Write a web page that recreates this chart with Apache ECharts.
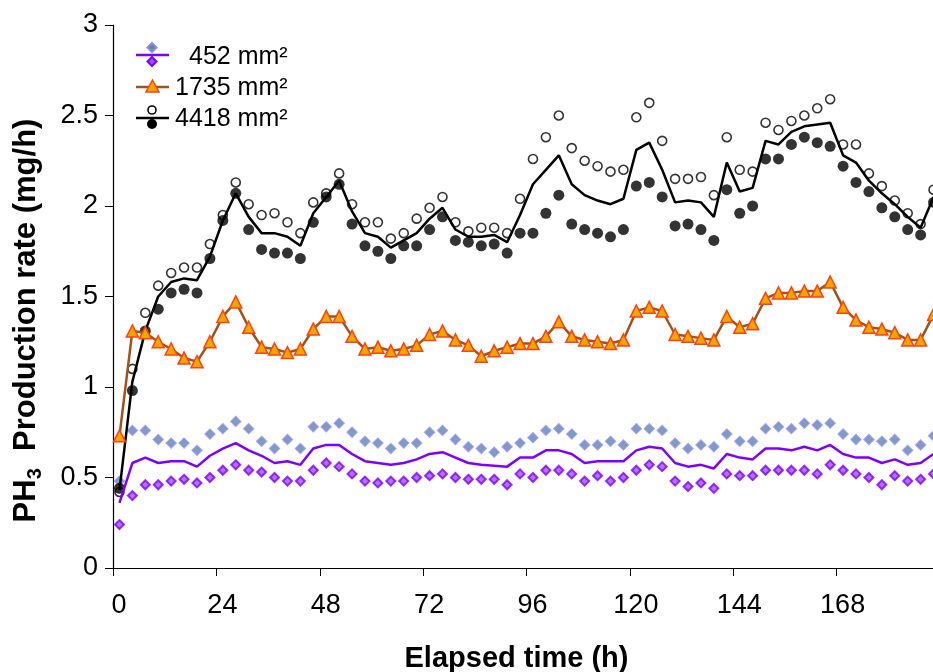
<!DOCTYPE html>
<html>
<head>
<meta charset="utf-8">
<script src="https://cdn.jsdelivr.net/npm/echarts@6/dist/echarts.min.js"></script>
<style>
  html, body { margin: 0; padding: 0; background: #fff; }
  #chart { width: 933px; height: 672px; }
</style>
</head>
<body>
<div id="chart"></div>
<script>
// sampling times (h), one point every 3 h
var hours = [1.5, 4.5, 7.5, 10.5, 13.5, 16.5, 19.5, 22.5, 25.5, 28.5,
  31.5, 34.5, 37.5, 40.5, 43.5, 46.5, 49.5, 52.5, 55.5, 58.5,
  61.5, 64.5, 67.5, 70.5, 73.5, 76.5, 79.5, 82.5, 85.5, 88.5,
  91.5, 94.5, 97.5, 100.5, 103.5, 106.5, 109.5, 112.5, 115.5, 118.5,
  121.5, 124.5, 127.5, 130.5, 133.5, 136.5, 139.5, 142.5, 145.5, 148.5,
  151.5, 154.5, 157.5, 160.5, 163.5, 166.5, 169.5, 172.5, 175.5, 178.5,
  181.5, 184.5, 187.5, 190.5];

var xTicks = [0, 24, 48, 72, 96, 120, 144, 168];

// 452 mm2
var a452Upper = [0.48, 0.76, 0.76, 0.71, 0.69, 0.69, 0.65, 0.74, 0.77, 0.81,
  0.77, 0.70, 0.66, 0.71, 0.66, 0.78, 0.78, 0.80, 0.75, 0.70,
  0.69, 0.66, 0.69, 0.69, 0.75, 0.76, 0.71, 0.67, 0.66, 0.64,
  0.67, 0.69, 0.72, 0.76, 0.77, 0.74, 0.68, 0.68, 0.70, 0.68,
  0.77, 0.77, 0.76, 0.69, 0.66, 0.68, 0.67, 0.74, 0.70, 0.70,
  0.77, 0.78, 0.77, 0.80, 0.79, 0.80, 0.74, 0.71, 0.71, 0.70,
  0.71, 0.65, 0.68, 0.73];
var a452Mean = [0.36, 0.58, 0.61, 0.58, 0.59, 0.59, 0.56, 0.62, 0.66, 0.69,
  0.65, 0.62, 0.58, 0.59, 0.57, 0.66, 0.68, 0.68, 0.63, 0.59,
  0.58, 0.57, 0.58, 0.60, 0.63, 0.64, 0.61, 0.58, 0.57, 0.565,
  0.56, 0.61, 0.61, 0.65, 0.65, 0.63, 0.58, 0.59, 0.59, 0.59,
  0.65, 0.67, 0.66, 0.58, 0.56, 0.57, 0.55, 0.63, 0.61, 0.60,
  0.66, 0.66, 0.65, 0.67, 0.65, 0.68, 0.63, 0.61, 0.61, 0.58,
  0.60, 0.57, 0.58, 0.63];
var a452Lower = [0.24, 0.40, 0.46, 0.46, 0.48, 0.49, 0.47, 0.50, 0.54, 0.57,
  0.54, 0.53, 0.50, 0.48, 0.48, 0.54, 0.58, 0.56, 0.52, 0.48,
  0.47, 0.48, 0.48, 0.50, 0.51, 0.52, 0.50, 0.49, 0.49, 0.49,
  0.46, 0.52, 0.50, 0.54, 0.54, 0.52, 0.48, 0.51, 0.48, 0.50,
  0.54, 0.57, 0.56, 0.48, 0.45, 0.47, 0.44, 0.52, 0.51, 0.51,
  0.54, 0.54, 0.54, 0.54, 0.52, 0.57, 0.54, 0.52, 0.50, 0.46,
  0.51, 0.48, 0.49, 0.52];

// 1735 mm2
var a1735 = [0.73, 1.31, 1.30, 1.25, 1.21, 1.16, 1.14, 1.25, 1.39, 1.47,
  1.33, 1.22, 1.21, 1.19, 1.21, 1.32, 1.39, 1.39, 1.28, 1.21,
  1.22, 1.20, 1.21, 1.23, 1.29, 1.31, 1.26, 1.23, 1.17, 1.20,
  1.22, 1.24, 1.24, 1.28, 1.36, 1.28, 1.26, 1.25, 1.24, 1.26,
  1.42, 1.44, 1.42, 1.29, 1.28, 1.27, 1.26, 1.39, 1.33, 1.35,
  1.49, 1.52, 1.52, 1.53, 1.53, 1.58, 1.44, 1.37, 1.33, 1.32,
  1.30, 1.26, 1.26, 1.40];

// 4418 mm2
var a4418Upper = [0.42, 1.10, 1.41, 1.56, 1.63, 1.66, 1.66, 1.79, 1.95, 2.13,
  2.01, 1.95, 1.96, 1.91, 1.85, 2.02, 2.07, 2.18, 2.01, 1.91,
  1.91, 1.82, 1.85, 1.93, 1.99, 2.05, 1.91, 1.86, 1.88, 1.88,
  1.85, 2.04, 2.26, 2.38, 2.50, 2.32, 2.25, 2.22, 2.19, 2.20,
  2.49, 2.57, 2.36, 2.15, 2.15, 2.16, 2.06, 2.38, 2.20, 2.19,
  2.46, 2.42, 2.47, 2.50, 2.54, 2.59, 2.34, 2.34, 2.18, 2.11,
  2.03, 1.96, 1.90, 2.09];
var a4418Mean = [0.43, 1.03, 1.31, 1.50, 1.58, 1.60, 1.59, 1.72, 1.92, 2.07,
  1.94, 1.85, 1.85, 1.83, 1.78, 1.96, 2.05, 2.14, 1.97, 1.85,
  1.83, 1.77, 1.81, 1.85, 1.93, 1.99, 1.87, 1.83, 1.83, 1.84,
  1.80, 1.95, 2.12, 2.20, 2.28, 2.12, 2.06, 2.03, 2.01, 2.04,
  2.31, 2.35, 2.20, 2.02, 2.03, 2.02, 1.94, 2.24, 2.08, 2.10,
  2.36, 2.34, 2.41, 2.44, 2.45, 2.46, 2.28, 2.24, 2.14, 2.07,
  2.01, 1.94, 1.88, 2.05];
var a4418Lower = [0.44, 0.98, 1.31, 1.43, 1.52, 1.54, 1.52, 1.71, 1.92, 2.07,
  1.87, 1.76, 1.74, 1.74, 1.71, 1.91, 2.05, 2.12, 1.90, 1.78,
  1.75, 1.71, 1.78, 1.78, 1.87, 1.94, 1.81, 1.80, 1.78, 1.79,
  1.74, 1.85, 1.85, 1.96, 2.06, 1.90, 1.87, 1.85, 1.83, 1.87,
  2.11, 2.13, 2.05, 1.89, 1.90, 1.87, 1.81, 2.09, 1.96, 2.00,
  2.26, 2.26, 2.34, 2.38, 2.35, 2.33, 2.22, 2.13, 2.08, 1.99,
  1.94, 1.87, 1.84, 2.02];

function pairs(arr) {
  return hours.map(function (h, i) { return [h, arr[i]]; });
}

var FONT = '"Liberation Sans", Arial, sans-serif';
var chart = echarts.init(document.getElementById('chart'));

chart.setOption({
  animation: false,
  grid: { left: 113, top: 25, width: 827, height: 543, outerBoundsMode: 'none' },
  xAxis: {
    type: 'value', min: 0, max: 192, interval: 24,
    axisLine: { lineStyle: { color: '#000', width: 1.2 } },
    axisTick: { length: 8, lineStyle: { color: '#000' } },
    splitLine: { show: false },
    axisLabel: {
      margin: 24, fontSize: 27, color: '#000', fontFamily: FONT, padding: [0, 0, 0, 12],
      formatter: function (v) { return xTicks.indexOf(v) >= 0 ? String(v) : ''; }
    },
    name: 'Elapsed time (h)', nameLocation: 'middle', nameGap: 76,
    nameTextStyle: { fontSize: 29, fontWeight: 'bold', color: '#000', fontFamily: FONT, padding: [0, 20, 0, 0] }
  },
  yAxis: {
    type: 'value', min: 0, max: 3, interval: 0.5,
    axisLine: { show: true, lineStyle: { color: '#000', width: 1.2 } },
    axisTick: { show: true, length: 8, lineStyle: { color: '#000' } },
    splitLine: { show: false },
    axisLabel: { margin: 15, fontSize: 27, color: '#000', fontFamily: FONT, padding: [6, 0, 0, 0] },
    name: '{a|PH}{b|3}{a|  Production rate (mg/h)}',
    nameLocation: 'middle', nameGap: 68, nameRotate: 90,
    nameTextStyle: {
      padding: [0, 48, 0, 0],
      rich: {
        a: { fontSize: 31, fontWeight: 'bold', color: '#000', fontFamily: FONT, lineHeight: 38 },
        b: { fontSize: 20, fontWeight: 'bold', color: '#000', fontFamily: FONT, lineHeight: 38, verticalAlign: 'bottom' }
      }
    }
  },
  series: [
    { name: '452 upper', type: 'scatter', data: pairs(a452Upper), symbol: 'diamond', symbolSize: 9,
      itemStyle: { color: '#5a8f86', borderColor: '#8888ff', borderWidth: 2 } },
    { name: '452 lower', type: 'scatter', data: pairs(a452Lower), symbol: 'diamond', symbolSize: 9,
      itemStyle: { color: '#a050ff', borderColor: '#8000ff', borderWidth: 2 } },
    { name: '452 mm²', type: 'line', data: pairs(a452Mean), showSymbol: false,
      lineStyle: { color: '#8000ff', width: 2.5 } },
    { name: '1735 mm²', type: 'line', data: pairs(a1735), symbol: 'triangle', symbolSize: 12,
      lineStyle: { color: '#a0521a', width: 2.5 },
      itemStyle: { color: '#f0a800', borderColor: '#ff4010', borderWidth: 1.5 } },
    { name: '4418 upper', type: 'scatter', data: pairs(a4418Upper), symbol: 'circle', symbolSize: 9,
      itemStyle: { color: '#fff', borderColor: '#000', borderWidth: 1.6 } },
    { name: '4418 lower', type: 'scatter', data: pairs(a4418Lower), symbol: 'circle', symbolSize: 11,
      itemStyle: { color: '#000' } },
    { name: '4418 mm²', type: 'line', data: pairs(a4418Mean), showSymbol: false,
      lineStyle: { color: '#000', width: 2.5 } }
  ],
  // legend drawn by hand: each entry combines a line and two marker styles
  graphic: [
    { type: 'line', shape: { x1: 136, y1: 55, x2: 169, y2: 55 }, style: { stroke: '#8000ff', lineWidth: 2.5 } },
    { type: 'polygon', shape: { points: [[152, 43], [156.5, 47.5], [152, 52], [147.5, 47.5]] },
      style: { fill: '#5a8f86', stroke: '#8888ff', lineWidth: 2 } },
    { type: 'polygon', shape: { points: [[152, 57], [156.5, 61.5], [152, 66], [147.5, 61.5]] },
      style: { fill: '#a050ff', stroke: '#8000ff', lineWidth: 2 } },
    { type: 'text', x: 189, y: 57, style: { text: '452 mm²', font: '25px ' + FONT, fill: '#000', verticalAlign: 'middle' } },

    { type: 'line', shape: { x1: 136, y1: 87, x2: 169, y2: 87 }, style: { stroke: '#a0521a', lineWidth: 2.5 } },
    { type: 'polygon', shape: { points: [[152.5, 80], [159, 92], [146, 92]] },
      style: { fill: '#f0a800', stroke: '#ff4010', lineWidth: 1.5 } },
    { type: 'text', x: 175, y: 88, style: { text: '1735 mm²', font: '25px ' + FONT, fill: '#000', verticalAlign: 'middle' } },

    { type: 'line', shape: { x1: 136, y1: 118, x2: 169, y2: 118 }, style: { stroke: '#000', lineWidth: 2.5 } },
    { type: 'circle', shape: { cx: 152, cy: 110, r: 4 }, style: { fill: '#fff', stroke: '#000', lineWidth: 1.6 } },
    { type: 'circle', shape: { cx: 152, cy: 124, r: 5 }, style: { fill: '#000' } },
    { type: 'text', x: 175, y: 119, style: { text: '4418 mm²', font: '25px ' + FONT, fill: '#000', verticalAlign: 'middle' } }
  ]
});
</script>
</body>
</html>
